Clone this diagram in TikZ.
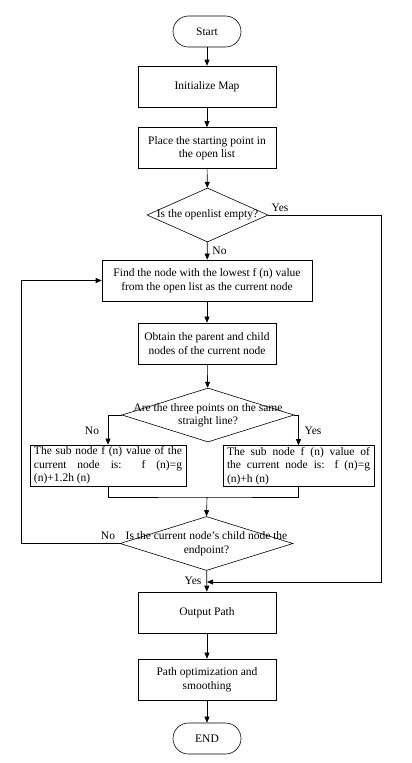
\documentclass[tikz,border=0pt]{standalone}
\usepackage{fontspec}
\setmainfont{Liberation Serif}
\usetikzlibrary{shapes.geometric,arrows.meta}

\begin{document}
\begin{tikzpicture}[x=1pt,y=-1pt,line width=0.6pt,>={Triangle[length=6pt,width=5pt]},
  every node/.style={font=\fontsize{11.5}{13.5}\selectfont},
  proc/.style={draw,rectangle,minimum width=138pt,minimum height=41pt,align=center,inner sep=2pt},
  term/.style={draw,rectangle,rounded corners=15.5pt,minimum width=68pt,minimum height=31pt},
  dec/.style={draw,diamond,minimum width=#1,minimum height=54pt,inner sep=0pt},
  side/.style={draw,rectangle,minimum height=41pt,text width=#1,align=justify,inner xsep=4pt,inner ysep=1pt},
  tag/.style={inner sep=1pt}]
  \useasboundingbox (0,0) rectangle (412,763);
  % main column
  \node[term] (start) at (207,31.5) {Start};
  \node[proc] (init) at (207,86.5) {Initialize Map};
  \node[proc] (place) at (207,148) {Place the starting point in\\the open list};
  \node[dec=121pt,label={center:Is the openlist empty?}] (d1) at (207.5,215) {};
  \node[proc,minimum width=210pt] (find) at (207,280.5) {Find the node with the lowest f (n) value\\from the open list as the current node};
  \node[proc] (obtain) at (207,343.5) {Obtain the parent and child\\nodes of the current node};
  \node[dec=172pt,label={[align=center]center:Are the three points on the same\\straight line?}] (d2) at (208,415) {};
  \node[side=148pt] (left) at (108,465.5) {The sub node f (n) value of the\linebreak current node is: f (n)=g\linebreak (n)+1.2h (n)};
  \node[side=143pt] (right) at (298.5,466) {The sub node f (n) value of\linebreak the current node is: f (n)=g\linebreak (n)+h (n)};
  \node[dec=173pt,label={[align=center]center:Is the current node's child node the\\endpoint?}] (d3) at (206.5,543.5) {};
  \node[proc] (out) at (207,612.5) {Output Path};
  \node[proc] (smooth) at (207,679.5) {Path optimization and\\smoothing};
  \node[term] (end) at (207,738.5) {END};
  % helper points
  \coordinate (yesR) at (381,215);
  \coordinate (join) at (207,582);
  \coordinate (merge) at (207,497);
  \coordinate (loopL) at (21,543.5);
  % connectors
  \draw[->] (start) -- (init);
  \draw[->] (init) -- (place);
  \draw[->] (place) -- (d1);
  \draw[->] (d1) -- (find);
  \draw[->] (find) -- (obtain);
  \draw[->] (obtain) -- (d2);
  \draw[->] (d2.west) -| (left.north);
  \draw[->] (d2.east) -| (right.north);
  \draw (left.south) |- (merge) -| (right.south);
  \draw[->] (merge) -- (d3.north);
  \draw[->] (d3) -- (out);
  \draw[->] (out) -- (smooth);
  \draw[->] (smooth) -- (end);
  \draw[->] (d1.east) -- (yesR) |- (join);
  \draw[->] (d3.west) -- (loopL) |- (find.west);
  % labels
  \node[tag] at (280,208) {Yes};
  \node[tag] at (219.5,251) {No};
  \node[tag] at (92,431) {No};
  \node[tag] at (313,431) {Yes};
  \node[tag] at (108,536) {No};
  \node[tag] at (193,581) {Yes};
\end{tikzpicture}
\end{document}
